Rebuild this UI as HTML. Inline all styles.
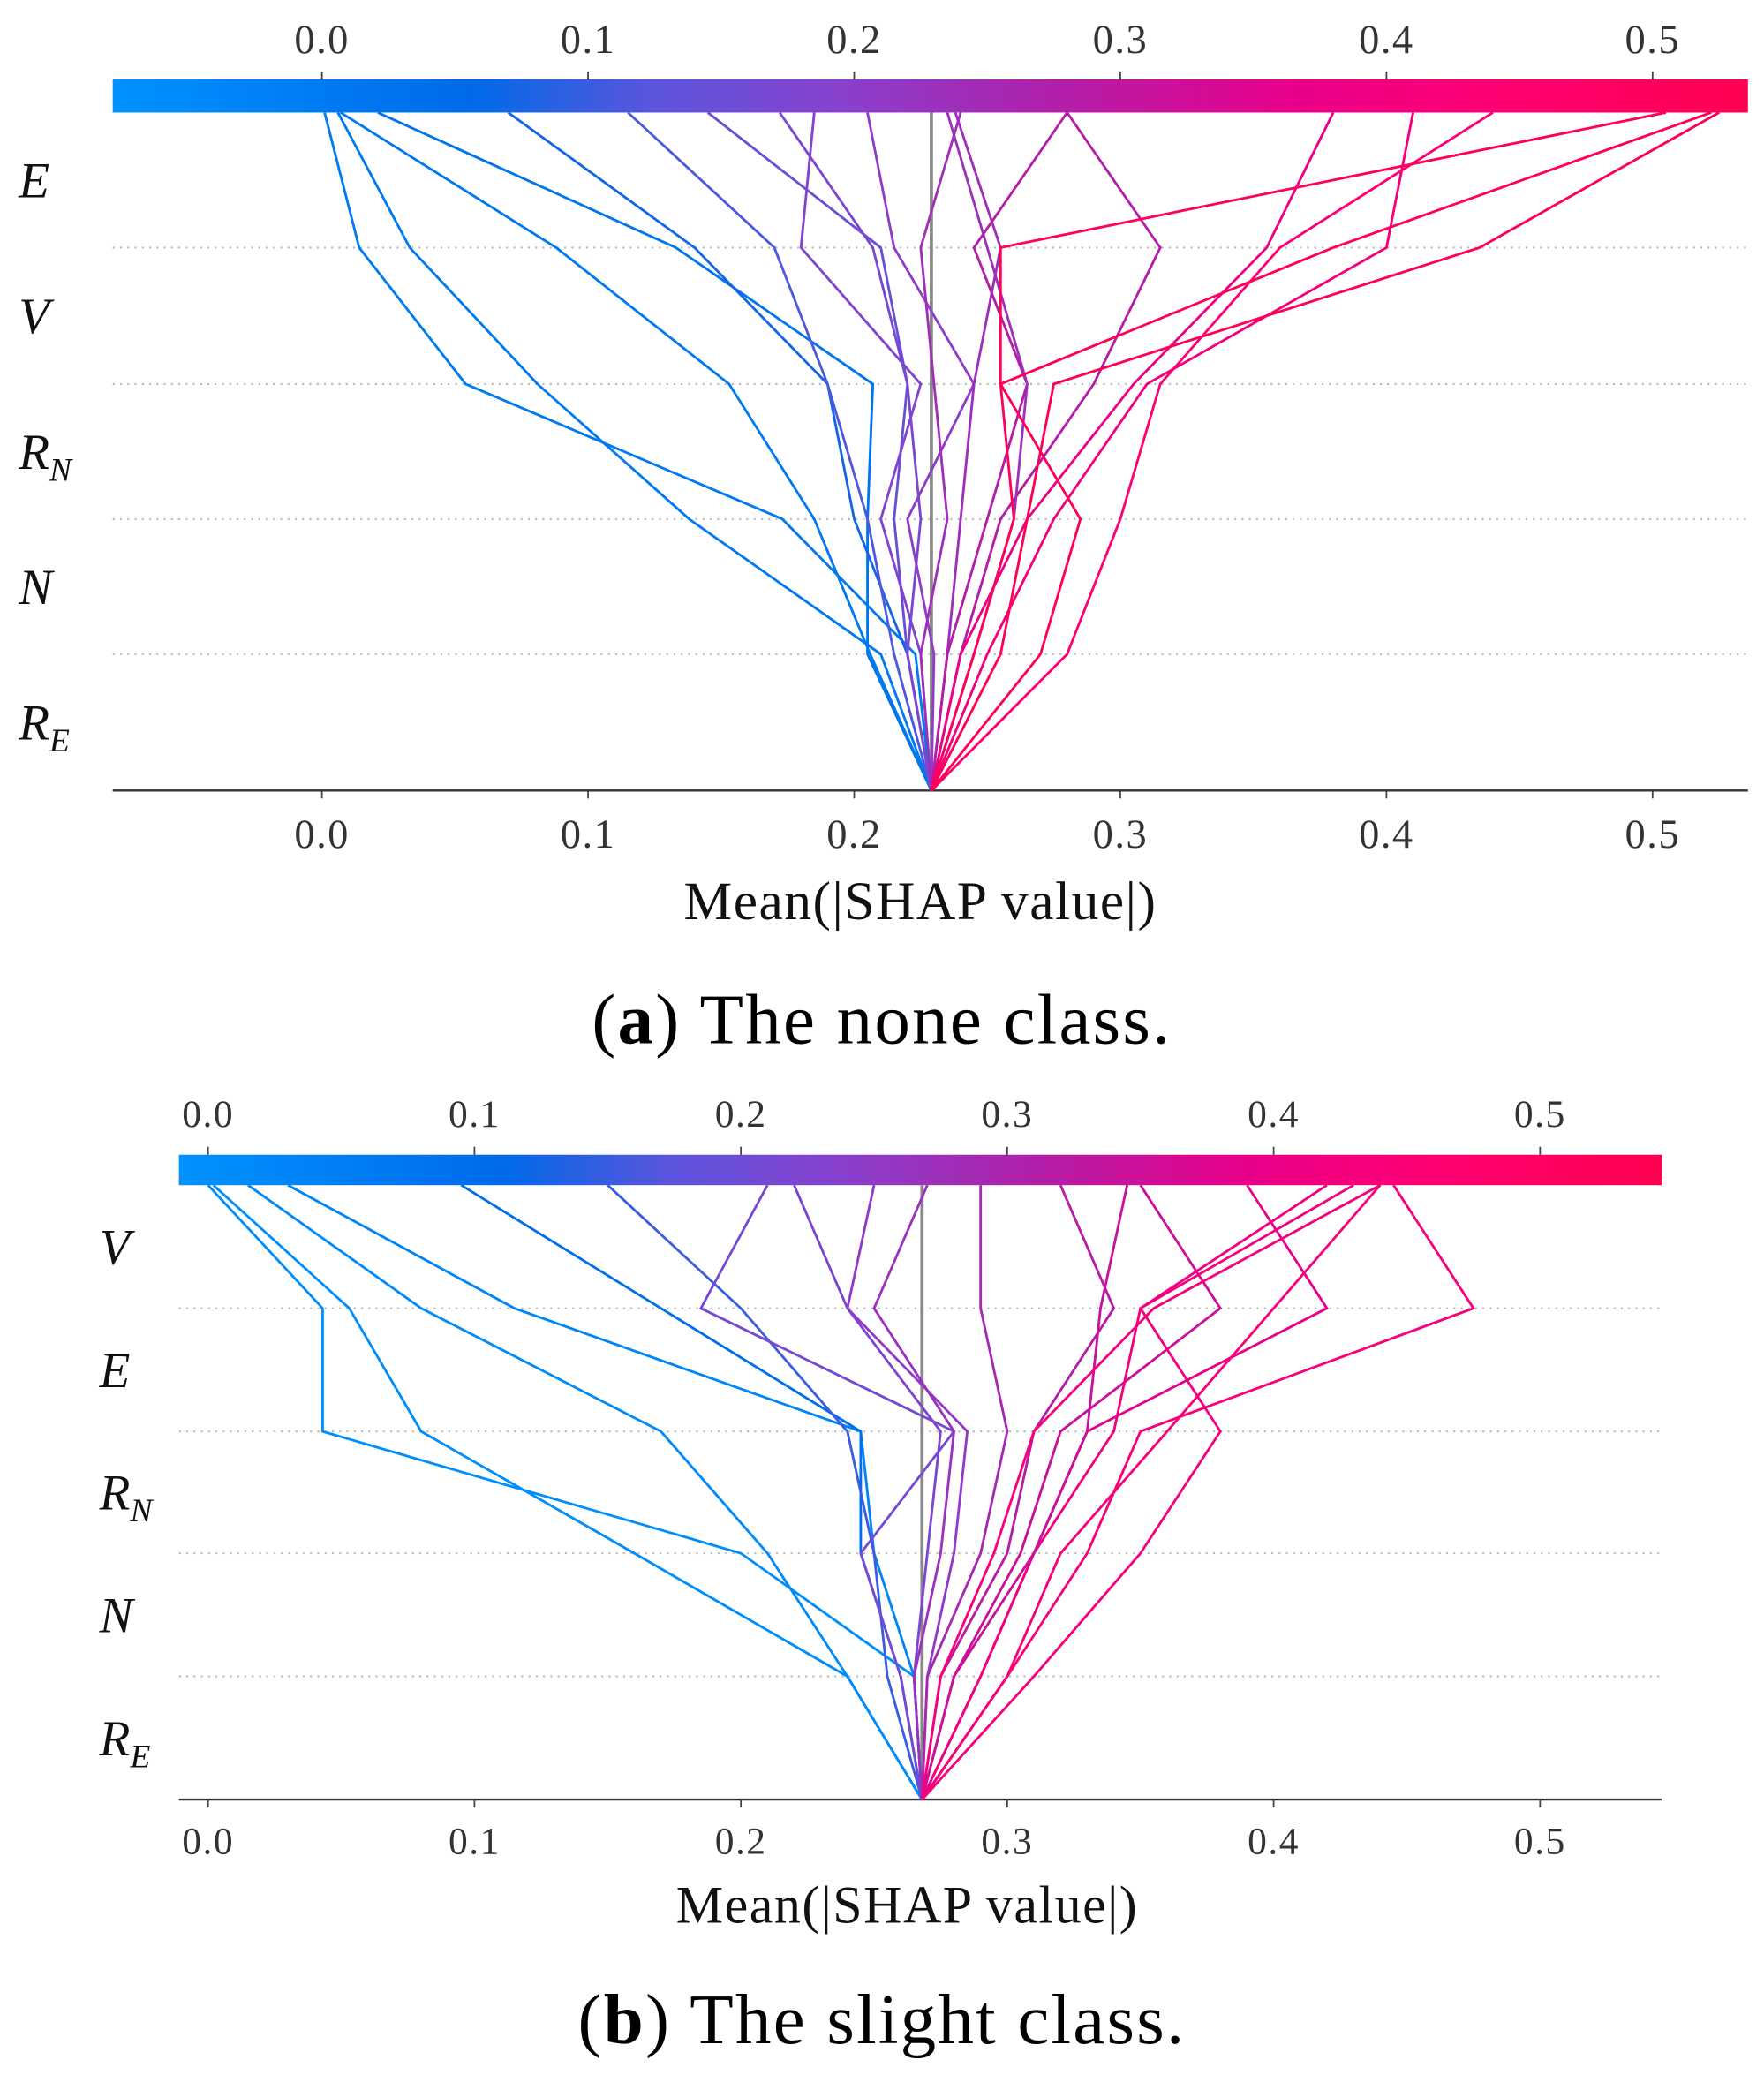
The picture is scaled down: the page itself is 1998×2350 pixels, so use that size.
<!DOCTYPE html>
<html><head><meta charset="utf-8"><style>
html,body{margin:0;padding:0;background:#fff;}
svg{display:block;}
text{font-family:"Liberation Serif","DejaVu Serif",serif;}
</style></head><body>
<svg id="fig" width="1998" height="2350" viewBox="0 0 1332 1567" xmlns="http://www.w3.org/2000/svg">
<defs>
<linearGradient id="cbar" x1="0" x2="1" y1="0" y2="0">
<stop offset="0" stop-color="#0092ff"/>
<stop offset="0.22" stop-color="#006ae8"/>
<stop offset="0.33" stop-color="#5a55dc"/>
<stop offset="0.45" stop-color="#8a3fcc"/>
<stop offset="0.58" stop-color="#b21ea8"/>
<stop offset="0.72" stop-color="#e8008a"/>
<stop offset="0.85" stop-color="#ff0072"/>
<stop offset="1" stop-color="#ff0050"/>
</linearGradient>
</defs>
<g id="chartA"></g>
<g id="chartB"></g>
<text x="666" y="788" text-anchor="middle" font-size="54" letter-spacing="1.5">(<tspan font-weight="bold">a</tspan>) The none class.</text>
<text x="666" y="1543" text-anchor="middle" font-size="54" letter-spacing="1.5">(<tspan font-weight="bold">b</tspan>) The slight class.</text>
</svg>
<script>
// Chart A data
const featuresA = ["E","V","R_N","N","R_E"];
const baseA = 0.229;
const ticksA = [0.0,0.1,0.2,0.3,0.4,0.5];
// each line: values after R_E, N, R_N, V, E (bottom -> top)
const linesA = [
[0.223,0.173,0.054,0.014,0.001],
[0.210,0.138,0.081,0.033,0.006],
[0.206,0.185,0.153,0.088,0.007],
[0.205,0.205,0.207,0.133,0.021],
[0.220,0.200,0.190,0.140,0.070],
[0.215,0.205,0.190,0.170,0.115],
[0.220,0.215,0.220,0.210,0.145],
[0.225,0.210,0.225,0.180,0.185],
[0.220,0.225,0.220,0.207,0.172],
[0.230,0.220,0.245,0.215,0.205],
[0.225,0.235,0.230,0.225,0.240],
[0.235,0.240,0.245,0.255,0.238],
[0.235,0.250,0.265,0.245,0.280],
[0.240,0.255,0.290,0.315,0.280],
[0.245,0.260,0.265,0.250,0.235],
[0.240,0.265,0.305,0.355,0.380],
[0.250,0.275,0.310,0.400,0.410],
[0.255,0.265,0.275,0.435,0.525],
[0.280,0.300,0.315,0.360,0.440],
[0.270,0.285,0.255,0.380,0.522],
[0.245,0.260,0.255,0.255,0.505]
];
// Chart B data
const featuresB = ["V","E","R_N","N","R_E"];
const baseB = 0.268;
const ticksB = [0.0,0.1,0.2,0.3,0.4,0.5];
const linesB = [
[0.265,0.200,0.043,0.043,0.000],
[0.240,0.160,0.080,0.053,0.002],
[0.240,0.210,0.170,0.080,0.015],
[0.265,0.250,0.245,0.115,0.030],
[0.260,0.245,0.245,0.170,0.095],
[0.255,0.250,0.240,0.200,0.150],
[0.260,0.245,0.280,0.185,0.210],
[0.265,0.270,0.275,0.240,0.220],
[0.270,0.280,0.285,0.240,0.250],
[0.265,0.275,0.280,0.250,0.270],
[0.270,0.290,0.300,0.290,0.290],
[0.275,0.300,0.310,0.340,0.320],
[0.280,0.305,0.320,0.380,0.350],
[0.290,0.310,0.330,0.420,0.390],
[0.300,0.330,0.350,0.475,0.445],
[0.310,0.350,0.380,0.350,0.430],
[0.290,0.310,0.340,0.350,0.420],
[0.300,0.320,0.360,0.400,0.440],
[0.280,0.310,0.330,0.335,0.345],
[0.275,0.295,0.310,0.355,0.440]
];

const NS="http://www.w3.org/2000/svg";
const stops=[[0,[0,146,255]],[0.22,[0,106,232]],[0.33,[90,85,220]],[0.45,[138,63,204]],[0.58,[178,30,168]],[0.72,[232,0,138]],[0.85,[255,0,114]],[1,[255,0,80]]];
function cmap(t){t=Math.max(0,Math.min(1,t));for(let i=1;i<stops.length;i++){if(t<=stops[i][0]){const a=stops[i-1],b=stops[i];const f=(t-a[0])/(b[0]-a[0]);const c=a[1].map((v,k)=>Math.round(v+(b[1][k]-v)*f));return `rgb(${c[0]},${c[1]},${c[2]})`;}}return "rgb(255,0,80)";}
function el(tag,attrs,parent){const e=document.createElementNS(NS,tag);for(const k in attrs)e.setAttribute(k,attrs[k]);parent.appendChild(e);return e;}

function draw(g,cfg,features,base,ticks,lines){
  const X=v=>cfg.x0+(v)*cfg.pxPer;
  const vmin=(cfg.left-cfg.x0)/cfg.pxPer, vmax=(cfg.right-cfg.x0)/cfg.pxPer;
  const rows=cfg.rows;
  for(let i=1;i<rows.length-1;i++){
    const l=el('line',{x1:cfg.left,x2:cfg.right,y1:rows[i],y2:rows[i],stroke:'#bbb','stroke-width':1.4,'stroke-dasharray':'1.5,4'},g);
    
    
  }
  features.forEach((f,i)=>{
    const y=(rows[i]+rows[i+1])/2+13;
    const t=el('text',{x:cfg.labelX,y:y,'font-size':38,'font-style':'italic',fill:'#111'},g);
    
    
    if(f.indexOf('_')>0){const p=f.split('_');t.textContent=p[0];const s=el('tspan',{'font-size':25,dy:9},t);s.textContent=p[1];}
    else t.textContent=f;
  });
  const cb=el('rect',{x:cfg.left,y:rows[0]-cfg.cbH,width:cfg.right-cfg.left,height:cfg.cbH,fill:'url(#cbar)'},g);
  
  
  ticks.forEach(v=>{
    const x=X(v);
    const a=el('line',{x1:x,x2:x,y1:rows[0]-cfg.cbH-6,y2:rows[0]-cfg.cbH,stroke:'#444','stroke-width':1.2},g);
    
    
    const t=el('text',{x:x,y:rows[0]-cfg.cbH-cfg.topGap,'text-anchor':'middle','font-size':cfg.tickFs,'letter-spacing':1,fill:'#333'},g);
    
    
    t.textContent=v.toFixed(1);
    const b=el('line',{x1:x,x2:x,y1:rows[rows.length-1],y2:rows[rows.length-1]+6,stroke:'#444','stroke-width':1.2},g);
    
    
    const t2=el('text',{x:x,y:rows[rows.length-1]+cfg.tickFs+12,'text-anchor':'middle','font-size':cfg.tickFs,'letter-spacing':1,fill:'#333'},g);
    
    
    t2.textContent=v.toFixed(1);
  });
  const ax=el('line',{x1:cfg.left,x2:cfg.right,y1:rows[rows.length-1],y2:rows[rows.length-1],stroke:'#333','stroke-width':1.6},g);
  
  
  const xt=el('text',{x:cfg.titleX,y:cfg.titleY,'text-anchor':'middle','font-size':cfg.titleFs,'letter-spacing':1,fill:'#111'},g);
  
  
  xt.textContent='Mean(|SHAP value|)';
  const bl=el('line',{x1:X(base),x2:X(base),y1:rows[0],y2:rows[rows.length-1],stroke:'#888','stroke-width':2.5},g);
  
  
  lines.forEach(vals=>{
    const pts=[[X(base),rows[rows.length-1]]];
    vals.forEach((v,i)=>pts.push([X(v),rows[rows.length-2-i]]));
    const c=cmap((vals[vals.length-1]-vmin)/(vmax-vmin));
    const p=el('polyline',{points:pts.map(p=>p.join(',')).join(' '),fill:'none',stroke:c,'stroke-width':1.9,'stroke-linejoin':'miter'},g);
    
    
  });
}
draw(document.getElementById('chartA'),{x0:243,pxPer:2010,left:85,right:1320,rows:[85,187,290,392,494,597],cbH:25,labelX:14,tickFs:31,topGap:20,titleX:695,titleY:694,titleFs:41},featuresA,baseA,ticksA,linesA);
draw(document.getElementById('chartB'),{x0:157,pxPer:2012,left:135,right:1255,rows:[895,988,1081,1173,1266,1359],cbH:23,labelX:75,tickFs:29,topGap:21,titleX:685,titleY:1452,titleFs:40},featuresB,baseB,ticksB,linesB);
</script>
</body></html>
